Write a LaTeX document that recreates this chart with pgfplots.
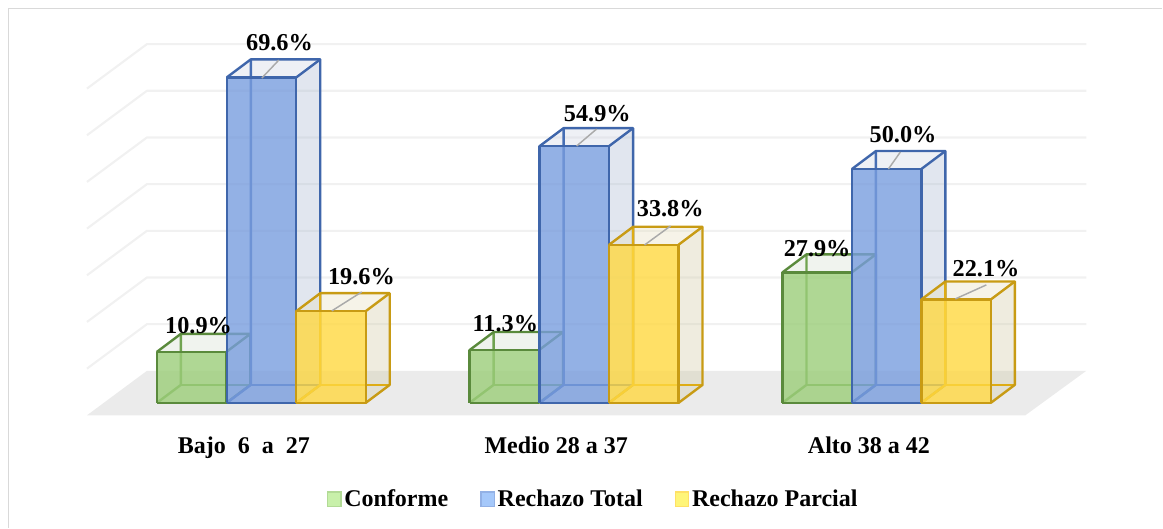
\documentclass[border=0pt]{standalone}
\usepackage{fontspec}
\setmainfont{Liberation Serif}
\usepackage{pgfplots}
\pgfplotsset{compat=1.18}
\definecolor{gfront}{RGB}{155,205,121}
\definecolor{gside}{RGB}{212,221,206}
\definecolor{gtop}{RGB}{212,221,206}
\definecolor{gedge}{RGB}{90,138,60}
\definecolor{gback}{RGB}{112,163,80}
\definecolor{bfront}{RGB}{120,157,222}
\definecolor{bside}{RGB}{169,184,209}
\definecolor{btop}{RGB}{206,212,226}
\definecolor{bedge}{RGB}{63,102,171}
\definecolor{bback}{RGB}{70,110,180}
\definecolor{yfront}{RGB}{255,216,64}
\definecolor{yside}{RGB}{209,201,164}
\definecolor{ytop}{RGB}{229,221,189}
\definecolor{yedge}{RGB}{200,155,20}
\definecolor{yback}{RGB}{222,172,20}
\definecolor{gridc}{RGB}{241,241,241}
\definecolor{floorc}{RGB}{235,235,235}
\definecolor{framec}{RGB}{217,217,217}
\definecolor{leaderc}{RGB}{170,170,170}
\definecolor{lgf}{RGB}{200,240,170}
\definecolor{lge}{RGB}{178,218,150}
\definecolor{lbf}{RGB}{165,200,250}
\definecolor{lbe}{RGB}{147,177,229}
\definecolor{lyf}{RGB}{255,245,120}
\definecolor{lye}{RGB}{255,224,102}
\newcommand{\tdbar}[3]{%
  \pgfmathsetmacro\xa{#1}%
  \pgfmathsetmacro\xb{#1+69.5}%
  \pgfmathsetmacro\xc{#1+24}%
  \pgfmathsetmacro\xd{#1+93.5}%
  \pgfmathsetmacro\vt{#2}%
  \pgfmathsetmacro\vb{#2+3.846}%
  \edef\tmp{%
    \noexpand\addplot[forget plot,draw=none,fill=#3side,fill opacity=0.35] coordinates {(\xb,0) (\xd,3.846) (\xd,\vb) (\xb,\vt)};
    \noexpand\addplot[forget plot,draw=none,fill=#3top,fill opacity=0.35] coordinates {(\xa,\vt) (\xc,\vb) (\xd,\vb) (\xb,\vt)};
    \noexpand\addplot[forget plot,#3back,line width=1.8pt,line join=round] coordinates {(\xa,0) (\xc,3.846) (\xc,\vb)};
    \noexpand\addplot[forget plot,#3back,line width=1.8pt,line join=round] coordinates {(\xc,3.846) (\xd,3.846)};
    \noexpand\addplot[forget plot,draw=none,fill=#3front,fill opacity=0.8] coordinates {(\xa,0) (\xb,0) (\xb,\vt) (\xa,\vt)};
    \noexpand\addplot[forget plot,#3edge,line width=1.8pt,line join=round] coordinates {(\xa,0) (\xb,0) (\xb,\vt) (\xa,\vt) (\xa,0)};
    \noexpand\addplot[forget plot,#3edge,line width=1.8pt,line join=round] coordinates {(\xb,0) (\xd,3.846) (\xd,\vb) (\xc,\vb) (\xa,\vt)};
    \noexpand\addplot[forget plot,#3edge,line width=1.8pt,line join=round] coordinates {(\xb,\vt) (\xd,\vb)};
  }\tmp
}
\newcommand{\lab}[3]{\node[font=\bfseries\fontsize{18.2}{18.2}\selectfont,inner sep=0pt,text=black] at (axis cs:#1+0.7,{(403-#2-0.2)/4.68}) {#3};}
\newcommand{\leader}[4]{\draw[leaderc,line width=1.1pt] (axis cs:#1,{(403-#2)/4.68}) -- (axis cs:#3,{(403-#4)/4.68});}
\newcommand{\grid}[1]{\addplot[forget plot,gridc,line width=1.6pt,line join=round] coordinates {(87,#1-9.51) (147,#1) (1087,#1)};}
\begin{document}
\begin{tikzpicture}
\begin{axis}[
  scale only axis,
  width=872.25pt,height=396pt,
  xmin=0,xmax=1163,
  ymin=-26.709,ymax=86.111,
  axis line style={draw=none},
  major tick length=0pt,
  ytick=\empty,
  xtick={244,556.5,869.5},
  xticklabels={Bajo\ \ 6\ \ a\ \ 27,Medio 28 a 37,Alto 38 a 42},
  xticklabel style={font=\bfseries\fontsize{18}{18}\selectfont,anchor=center,text height=12pt,text depth=4pt,yshift=60pt},
  clip=false,
  legend columns=3,
  legend cell align=left,
  legend style={
    at={(axis cs:327,-20.62)},anchor=west,draw=none,fill=none,inner sep=0pt,
    font=\bfseries\fontsize{18}{18}\selectfont,
    /tikz/every even column/.append style={column sep=22.1pt},
  },
]
% frame
\addplot[forget plot,framec,line width=1.2pt] coordinates {(8.5,-26.709) (8.5,84.3) (1163,84.3)};
% floor
\addplot[forget plot,draw=none,fill=floorc] coordinates {(87,-2.67) (147,6.84) (1087,6.84) (1026,-2.67)};
% gridlines
\grid{16.82}\grid{26.80}\grid{36.78}\grid{46.76}\grid{56.74}\grid{66.72}\grid{76.70}
% bars
\tdbar{157}{10.9}{g}
\tdbar{227}{69.6}{b}
\tdbar{296.5}{19.6}{y}
\tdbar{470}{11.3}{g}
\tdbar{540}{54.9}{b}
\tdbar{609.5}{33.8}{y}
\tdbar{783}{27.9}{g}
\tdbar{852.5}{50.0}{b}
\tdbar{922}{22.1}{y}
% leader lines
\leader{262}{78}{279}{60}
\leader{332}{311}{362}{292}
\leader{577}{146}{597}{129}
\leader{645}{245}{671}{226}
\leader{889}{169}{901}{152}
\leader{956}{299}{987}{285}
% labels
\lab{279}{42}{69.6\%}
\lab{198}{326}{10.9\%}
\lab{361}{276}{19.6\%}
\lab{597}{113}{54.9\%}
\lab{505}{324}{11.3\%}
\lab{670}{208}{33.8\%}
\lab{903}{134}{50.0\%}
\lab{817}{248}{27.9\%}
\lab{986}{268}{22.1\%}
% legend
\addlegendimage{legend image code/.code={\draw[draw=lge,fill=lgf,line width=1pt] (0.5pt,-5.5pt) rectangle (10.5pt,5.5pt);}}
\addlegendentry{Conforme}
\addlegendimage{legend image code/.code={\draw[draw=lbe,fill=lbf,line width=1pt] (0.5pt,-5.5pt) rectangle (10.5pt,5.5pt);}}
\addlegendentry{Rechazo Total}
\addlegendimage{legend image code/.code={\draw[draw=lye,fill=lyf,line width=1pt] (0.5pt,-5.5pt) rectangle (10.5pt,5.5pt);}}
\addlegendentry{Rechazo Parcial}
\end{axis}
\end{tikzpicture}
\end{document}
